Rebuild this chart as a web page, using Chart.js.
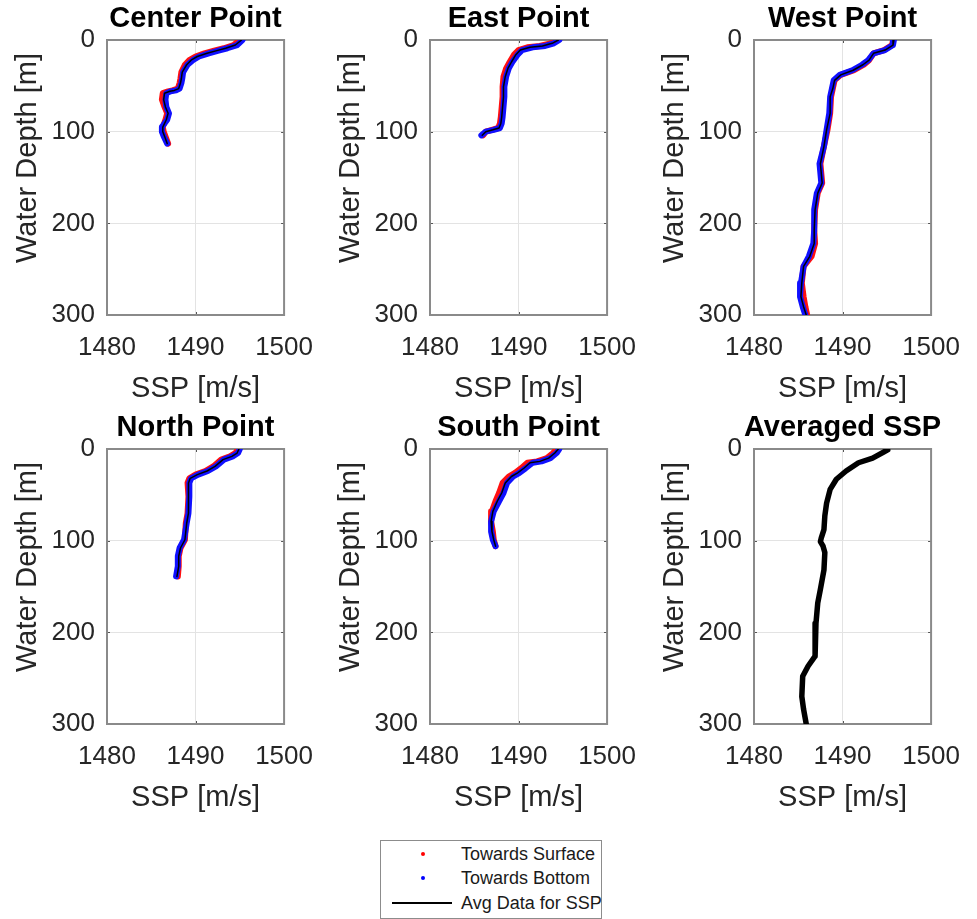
<!DOCTYPE html>
<html>
<head>
<meta charset="utf-8">
<script src="https://cdn.jsdelivr.net/npm/chart.js@4"></script>
<style>
  html, body { margin: 0; padding: 0; background: #fff; overflow: hidden; }
  body { width: 977px; height: 919px; position: relative; font-family: 'Liberation Sans', Arial, sans-serif; }
  canvas { position: absolute; }
  #legend { position: absolute; left: 380px; top: 840px; width: 220px; height: 77px; border: 1px solid #8c8c8c; background: #fff; }
  #legend .txt { position: absolute; left: 80px; font-size: 18px; line-height: 20px; color: #1a1a1a; white-space: nowrap; }
  #legend .dot { position: absolute; left: 40px; width: 4px; height: 4px; border-radius: 50%; }
  #legend .line { position: absolute; left: 11px; width: 60px; height: 2px; background: #000; }
</style>
</head>
<body>
<canvas id="c-center" width="330" height="409" style="left:0;top:0"></canvas>
<canvas id="c-east" width="330" height="409" style="left:323px;top:0"></canvas>
<canvas id="c-west" width="330" height="409" style="left:647px;top:0"></canvas>
<canvas id="c-north" width="330" height="409" style="left:0;top:409px"></canvas>
<canvas id="c-south" width="330" height="409" style="left:323px;top:409px"></canvas>
<canvas id="c-avg" width="330" height="409" style="left:647px;top:409px"></canvas>

<div id="legend">
  <span class="dot" style="top:11px;background:#ff0000"></span>
  <span class="txt" style="top:3px">Towards Surface</span>
  <span class="dot" style="top:35px;background:#0000ff"></span>
  <span class="txt" style="top:27px">Towards Bottom</span>
  <span class="line" style="top:61px"></span>
  <span class="txt" style="top:52px">Avg Data for SSP</span>
</div>

<script>
/* ── axis ticks and labels ── */
const speedTicks = [1480, 1490, 1500];
const depthTicks = [0, 100, 200, 300];
const xLabel = 'SSP [m/s]';
const yLabel = 'Water Depth [m]';

/* ── Center Point ── */
const centerDepth   = [0, 5.5, 9, 11.6, 14.5, 18, 22, 27, 35, 42, 47, 53, 55, 56, 58, 65, 73, 80, 87, 95, 100, 105, 113];
const centerSurface = [1495.0, 1494.3, 1493.2, 1492.1, 1491.0, 1490.0, 1489.3, 1488.8, 1488.4, 1488.3, 1488.2, 1488.0, 1487.4, 1486.9, 1486.3, 1486.2, 1486.5, 1486.8, 1486.6, 1486.3, 1486.4, 1486.6, 1486.9];
const centerBottom  = [1495.3, 1494.7, 1493.6, 1492.6, 1491.5, 1490.4, 1489.7, 1489.1, 1488.6, 1488.5, 1488.4, 1488.2, 1487.8, 1487.2, 1486.7, 1486.6, 1486.7, 1487.0, 1486.8, 1486.2, 1486.2, 1486.4, 1486.8];
const centerAvg     = [1495.2, 1494.5, 1493.4, 1492.4, 1491.3, 1490.2, 1489.5, 1489.0, 1488.5, 1488.4, 1488.3, 1488.1, 1487.6, 1487.1, 1486.5, 1486.4, 1486.6, 1486.9, 1486.7, 1486.3, 1486.3, 1486.5, 1486.8];

/* ── East Point ── */
const eastDepth   = [0, 3.6, 6.5, 8, 11, 16, 24, 31, 40, 51, 62, 73, 84, 91, 96, 98, 100, 104];
const eastSurface = [1494.3, 1493.6, 1492.4, 1491.0, 1490.0, 1489.5, 1489.0, 1488.6, 1488.3, 1488.2, 1488.2, 1488.1, 1488.0, 1487.9, 1487.7, 1487.0, 1486.3, 1486.0];
const eastBottom  = [1494.6, 1494.0, 1493.0, 1491.6, 1490.4, 1489.9, 1489.3, 1488.9, 1488.6, 1488.4, 1488.4, 1488.3, 1488.2, 1488.1, 1487.9, 1487.2, 1486.3, 1485.8];
const eastAvg     = [1494.5, 1493.8, 1492.7, 1491.3, 1490.2, 1489.7, 1489.2, 1488.8, 1488.5, 1488.3, 1488.3, 1488.2, 1488.1, 1488.0, 1487.8, 1487.1, 1486.3, 1485.9];

/* ── West Point ── */
const westDepth   = [0, 5.5, 11, 14.5, 22, 27, 33, 38, 44, 53, 62, 80, 98, 116, 135, 156, 167, 185, 207, 222, 236, 247, 265, 280, 291, 300];
const westSurface = [1495.7, 1495.6, 1494.7, 1493.5, 1493.0, 1492.4, 1491.3, 1489.8, 1489.1, 1488.9, 1488.7, 1488.6, 1488.3, 1487.9, 1487.5, 1487.7, 1487.2, 1486.9, 1486.8, 1486.9, 1486.5, 1485.6, 1485.4, 1485.6, 1485.8, 1486.0];
const westBottom  = [1495.8, 1495.7, 1494.8, 1493.5, 1492.9, 1492.2, 1491.1, 1489.7, 1489.0, 1488.8, 1488.6, 1488.5, 1488.2, 1487.9, 1487.4, 1487.6, 1487.1, 1486.8, 1486.8, 1486.7, 1486.2, 1485.6, 1485.3, 1485.2, 1485.5, 1485.8];
const westAvg     = [1495.8, 1495.7, 1494.8, 1493.5, 1493.0, 1492.3, 1491.2, 1489.8, 1489.1, 1488.9, 1488.6, 1488.6, 1488.2, 1487.9, 1487.5, 1487.7, 1487.2, 1486.9, 1486.8, 1486.8, 1486.3, 1485.6, 1485.4, 1485.3, 1485.6, 1485.9];

/* ── North Point ── */
const northDepth   = [0, 4.4, 8, 11.6, 19, 24, 28, 32, 37, 52, 70, 81, 99, 108, 117, 128, 139];
const northSurface = [1494.8, 1494.5, 1493.9, 1492.9, 1492.0, 1491.1, 1490.0, 1489.3, 1489.1, 1489.2, 1489.1, 1488.9, 1488.8, 1488.3, 1488.1, 1488.1, 1488.0];
const northBottom  = [1495.0, 1494.8, 1494.2, 1493.2, 1492.3, 1491.4, 1490.3, 1489.5, 1489.3, 1489.3, 1489.2, 1489.0, 1488.7, 1488.2, 1488.0, 1488.0, 1487.8];
const northAvg     = [1494.9, 1494.7, 1494.1, 1493.1, 1492.2, 1491.3, 1490.2, 1489.4, 1489.2, 1489.2, 1489.2, 1489.0, 1488.8, 1488.3, 1488.1, 1488.1, 1487.9];

/* ── South Point ── */
const southDepth   = [0, 4.4, 10, 13.5, 15, 21, 26, 30, 37, 48, 57, 68, 79, 90, 99, 106];
const southSurface = [1494.3, 1493.9, 1493.2, 1492.1, 1491.0, 1490.3, 1489.6, 1488.9, 1488.2, 1487.8, 1487.4, 1487.0, 1486.9, 1487.1, 1487.2, 1487.4];
const southBottom  = [1494.6, 1494.3, 1493.6, 1492.6, 1491.6, 1490.8, 1490.1, 1489.4, 1488.7, 1488.3, 1487.8, 1487.2, 1486.9, 1486.9, 1487.1, 1487.4];
const southAvg     = [1494.5, 1494.1, 1493.4, 1492.4, 1491.3, 1490.6, 1489.9, 1489.2, 1488.5, 1488.1, 1487.6, 1487.1, 1486.9, 1487.0, 1487.2, 1487.4];

/* ── Averaged SSP ── */
const avgDepth = [1, 2.5, 10, 15, 24, 33, 44, 59, 73, 88, 97, 101, 106, 113, 132, 153, 168, 190, 212, 226, 237, 248, 270, 284, 300];
const avgSSP   = [1495.1, 1494.8, 1493.4, 1491.8, 1490.4, 1489.3, 1488.6, 1488.2, 1488.0, 1487.9, 1487.6, 1487.5, 1487.8, 1488.0, 1487.9, 1487.5, 1487.2, 1487.0, 1486.9, 1486.9, 1486.1, 1485.5, 1485.4, 1485.6, 1485.9];

const FONT = "'Liberation Sans', Arial, Helvetica, sans-serif";
const TEXT = '#262626';

// frame, inward tick marks, panel title and rotated y label (MATLAB-style axes)
const axisBox = {
  id: 'axisBox',
  beforeDatasetsDraw(chart) {
    const { ctx, chartArea: a, scales } = chart;
    ctx.save();
    ctx.strokeStyle = '#555';
    ctx.lineWidth = 1;
    ctx.beginPath();
    speedTicks.slice(1, -1).forEach(v => {
      const x = Math.round(scales.x.getPixelForValue(v)) + 0.5;
      ctx.moveTo(x, a.top); ctx.lineTo(x, a.top + 3);
      ctx.moveTo(x, a.bottom); ctx.lineTo(x, a.bottom - 3);
    });
    depthTicks.slice(1, -1).forEach(v => {
      const y = Math.round(scales.y.getPixelForValue(v)) + 0.5;
      ctx.moveTo(a.left, y); ctx.lineTo(a.left + 3, y);
      ctx.moveTo(a.right, y); ctx.lineTo(a.right - 3, y);
    });
    ctx.stroke();
    ctx.strokeStyle = '#8a8a8a';
    ctx.lineWidth = 2;
    ctx.strokeRect(a.left, a.top, a.width, a.height);
    ctx.restore();
  },
  afterDraw(chart, args, opts) {
    const { ctx, chartArea: a } = chart;
    ctx.save();
    ctx.textAlign = 'center';
    ctx.textBaseline = 'middle';
    // title, centred over the plot box (may run wider than it)
    ctx.fillStyle = '#000';
    ctx.font = `bold 29px ${FONT}`;
    ctx.fillText(opts.title, (a.left + a.right) / 2, a.top - 21);
    // y axis label
    ctx.fillStyle = TEXT;
    ctx.font = `29px ${FONT}`;
    ctx.translate(28, a.top + 118);
    ctx.rotate(-Math.PI / 2);
    ctx.fillText(yLabel, 0, 0);
    ctx.restore();
  },
};

function makePanel(id, title, depth, series) {
  const datasets = series.map(s => ({
    label: s.label,
    data: depth.map((d, i) => ({ x: s.values[i], y: d })),
    showLine: true,
    order: s.order,
    borderColor: s.color,
    backgroundColor: s.color,
    borderWidth: s.width,
    borderCapStyle: 'round',
    borderJoinStyle: 'round',
    pointRadius: 0,
    tension: 0,
  }));

  return new Chart(document.getElementById(id), {
    type: 'scatter',
    data: { datasets },
    plugins: [axisBox],
    options: {
      responsive: false,
      animation: false,
      layout: { padding: { left: 0, right: 35, top: 40, bottom: 0 } },
      plugins: {
        legend: { display: false },
        tooltip: { enabled: false },
        axisBox: { title },
      },
      scales: {
        x: {
          type: 'linear',
          position: 'bottom',
          min: speedTicks[0],
          max: speedTicks[speedTicks.length - 1],
          afterBuildTicks: s => { s.ticks = speedTicks.map(v => ({ value: v })); },
          afterFit: s => { s.height = 94; },
          grid: { color: '#e3e3e3', drawTicks: false },
          border: { display: false },
          ticks: { color: TEXT, font: { family: FONT, size: 26 }, padding: 17, maxRotation: 0, callback: v => String(v) },
          title: { display: true, text: xLabel, color: TEXT, font: { family: FONT, size: 29 }, padding: { top: 0, bottom: 3 } },
        },
        y: {
          type: 'linear',
          reverse: true,
          min: depthTicks[0],
          max: depthTicks[depthTicks.length - 1],
          afterBuildTicks: s => { s.ticks = depthTicks.map(v => ({ value: v })); },
          afterFit: s => { s.width = 107; },
          grid: { color: '#e3e3e3', drawTicks: false },
          border: { display: false },
          ticks: { color: TEXT, font: { family: FONT, size: 26 }, padding: 12, callback: v => String(v) },
        },
      },
    },
  });
}

// lower order is drawn on top: black average, then blue, then red underneath
function castSeries(surface, bottom, avg) {
  return [
    { label: 'Towards Surface', values: surface, color: '#ff1010', width: 6, order: 2 },
    { label: 'Towards Bottom', values: bottom, color: '#1010ff', width: 6, order: 1 },
    { label: 'Avg Data for SSP', values: avg, color: '#000000', width: 1.5, order: 0 },
  ];
}

makePanel('c-center', 'Center Point', centerDepth, castSeries(centerSurface, centerBottom, centerAvg));
makePanel('c-east', 'East Point', eastDepth, castSeries(eastSurface, eastBottom, eastAvg));
makePanel('c-west', 'West Point', westDepth, castSeries(westSurface, westBottom, westAvg));
makePanel('c-north', 'North Point', northDepth, castSeries(northSurface, northBottom, northAvg));
makePanel('c-south', 'South Point', southDepth, castSeries(southSurface, southBottom, southAvg));
makePanel('c-avg', 'Averaged SSP', avgDepth, [
  { label: 'Avg Data for SSP', values: avgSSP, color: '#000000', width: 5.5, order: 0 },
]);
</script>
</body>
</html>
